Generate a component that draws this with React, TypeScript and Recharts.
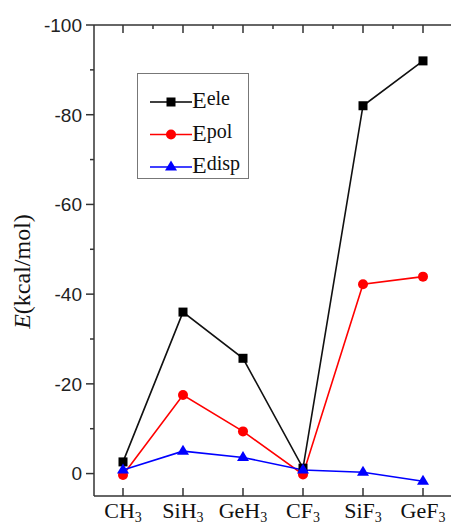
import React from 'react';
import { LineChart, Line, XAxis, YAxis, Legend } from 'recharts';

const categories = ['CH3', 'SiH3', 'GeH3', 'CF3', 'SiF3', 'GeF3'];
const eele = [-2.6, -36.0, -25.7, -1.2, -82.0, -92.0];
const epol = [0.3, -17.5, -9.4, 0.2, -42.2, -43.9];
const edisp = [-0.8, -5.0, -3.6, -0.8, -0.3, 1.7];
const yTicks = [-100, -90, -80, -70, -60, -50, -40, -30, -20, -10, 0];
const yLabelTicks = [-100, -80, -60, -40, -20, 0];
const xTicks = [0, 1, 2, 3, 4, 5];
const xTopTicks = [0, 0.5, 1, 1.5, 2, 2.5, 3, 3.5, 4, 4.5, 5];

const data = categories.map((c, i) => ({ x: i, name: c, eele: eele[i], epol: epol[i], edisp: edisp[i] }));

const AXIS = '#333';
const SERIF = '"Liberation Serif", "Times New Roman", serif';
const SANS = '"Liberation Sans", Arial, sans-serif';

const Square = (p: any) => (
  <rect key={'s' + p.index} x={p.cx - 4.5} y={p.cy - 4.5} width={9} height={9} fill="#000" />
);
const Circle = (p: any) => (
  <circle key={'c' + p.index} cx={p.cx} cy={p.cy} r={5} fill="#ff0000" />
);
const Tri = (p: any) => (
  <polygon
    key={'t' + p.index}
    points={`${p.cx},${p.cy - 6.5} ${p.cx - 6},${p.cy + 3.5} ${p.cx + 6},${p.cy + 3.5}`}
    fill="#0000ff"
  />
);

const LeftTick = (p: any) => {
  const v = p.payload.value;
  const major = yLabelTicks.includes(v);
  return (
    <g>
      <line x1={p.x - (major ? 8 : 4)} x2={p.x} y1={p.y} y2={p.y} stroke={AXIS} strokeWidth={1.5} />
      {major && (
        <text x={p.x - 12} y={p.y} dy="0.36em" textAnchor="end" style={{ fontFamily: SANS }} fontSize={19} fill="#222">
          {v}
        </text>
      )}
    </g>
  );
};

const RightTick = (p: any) => {
  const v = p.payload.value;
  const major = yLabelTicks.includes(v);
  return <line x1={p.x - (major ? 7 : 4)} x2={p.x} y1={p.y} y2={p.y} stroke={AXIS} strokeWidth={1.5} />;
};

const BottomTick = (p: any) => {
  const label = categories[p.payload.value] || '';
  const m = label.match(/^(.*?)(\d+)$/);
  const base = m ? m[1] : label;
  const sub = m ? m[2] : '';
  return (
    <g>
      <line x1={p.x} x2={p.x} y1={p.y} y2={p.y - 8} stroke={AXIS} strokeWidth={1.5} />
      <text x={p.x} y={p.y + 22} textAnchor="middle" style={{ fontFamily: SERIF }} fontSize={22} fill="#111">
        {base}
        <tspan fontSize={14} dy={4}>{sub}</tspan>
      </text>
    </g>
  );
};

const TopTick = (p: any) => {
  const v = p.payload.value;
  const major = Number.isInteger(v);
  return <line x1={p.x} x2={p.x} y1={p.y} y2={p.y + (major ? 8 : 4)} stroke={AXIS} strokeWidth={1.5} />;
};

const YLabel = (p: any) => {
  const vb = p.viewBox || { x: 0, y: 25, width: 94, height: 471 };
  const cx = vb.x + 22;
  const cy = vb.y + vb.height / 2 + 11;
  return (
    <text
      x={cx}
      y={cy}
      transform={`rotate(-90, ${cx}, ${cy})`}
      textAnchor="middle"
      dominantBaseline="central"
      style={{ fontFamily: SERIF }}
      fontSize={24}
      fill="#111"
    >
      <tspan fontStyle="italic">E</tspan>(kcal/mol)
    </text>
  );
};

const legendItems = [
  { sup: 'ele', color: '#000', shape: 'square' },
  { sup: 'pol', color: '#ff0000', shape: 'circle' },
  { sup: 'disp', color: '#0000ff', shape: 'triangle' },
];

const LegendBox = () => (
  <svg width={112} height={106} style={{ display: 'block' }}>
    <rect x={0.5} y={0.5} width={111} height={105} fill="#fff" stroke="#777" strokeWidth={1} />
    {legendItems.map((it, i) => {
      const y = 29 + i * 32.5;
      const cx = 34;
      return (
        <g key={it.sup}>
          <line x1={13} x2={55} y1={y} y2={y} stroke={it.color} strokeWidth={1.5} />
          {it.shape === 'square' && <rect x={cx - 4.5} y={y - 4.5} width={9} height={9} fill={it.color} />}
          {it.shape === 'circle' && <circle cx={cx} cy={y} r={5} fill={it.color} />}
          {it.shape === 'triangle' && (
            <polygon points={`${cx},${y - 6.5} ${cx - 6},${y + 3.5} ${cx + 6},${y + 3.5}`} fill={it.color} />
          )}
          <text x={55} y={y + 6} style={{ fontFamily: SERIF }} fontSize={24} fill="#111">
            E
            <tspan fontSize={20} dy={-3}>{it.sup}</tspan>
          </text>
        </g>
      );
    })}
  </svg>
);

export default function App() {
  return (
    <div style={{ position: 'absolute', left: 0, top: 0, width: 451, height: 526, overflow: 'hidden', background: '#fff' }}>
      <LineChart width={460} height={526} data={data} margin={{ top: 0, right: 0, bottom: 0, left: 0 }}>
        <XAxis
          xAxisId="bottom"
          dataKey="x"
          type="number"
          domain={[-0.4833, 5.4833]}
          ticks={xTicks}
          interval={0}
          height={30}
          tickSize={0}
          tickMargin={0}
          tickLine={false}
          axisLine={{ stroke: AXIS, strokeWidth: 1.5 }}
          tick={<BottomTick />}
        />
        <XAxis
          xAxisId="top"
          orientation="top"
          dataKey="x"
          type="number"
          domain={[-0.4833, 5.4833]}
          ticks={xTopTicks}
          interval={0}
          height={25}
          tickSize={0}
          tickMargin={0}
          tickLine={false}
          axisLine={{ stroke: AXIS, strokeWidth: 1.5 }}
          tick={<TopTick />}
        />
        <YAxis
          yAxisId="left"
          type="number"
          reversed
          domain={[-100, 5]}
          ticks={yTicks}
          interval={0}
          width={94}
          tickSize={0}
          tickMargin={0}
          tickLine={false}
          axisLine={{ stroke: AXIS, strokeWidth: 1.5 }}
          tick={<LeftTick />}
          label={(p: any) => <YLabel {...p} />}
        />
        <YAxis
          yAxisId="right"
          orientation="right"
          type="number"
          reversed
          domain={[-100, 5]}
          ticks={yTicks}
          interval={0}
          width={8}
          tickSize={0}
          tickMargin={0}
          tickLine={false}
          axisLine={{ stroke: AXIS, strokeWidth: 1.5 }}
          tick={<RightTick />}
        />
        <Legend
          layout="vertical"
          align="center"
          verticalAlign="middle"
          content={() => <LegendBox />}
          wrapperStyle={{ left: 137, top: 73, width: 112, height: 106 }}
        />
        <Line
          xAxisId="bottom"
          yAxisId="left"
          dataKey="eele"
          stroke="#111"
          strokeWidth={1.6}
          dot={Square}
          activeDot={false}
          isAnimationActive={false}
        />
        <Line
          xAxisId="bottom"
          yAxisId="left"
          dataKey="epol"
          stroke="#ff0000"
          strokeWidth={1.6}
          dot={Circle}
          activeDot={false}
          isAnimationActive={false}
        />
        <Line
          xAxisId="bottom"
          yAxisId="left"
          dataKey="edisp"
          stroke="#0000ff"
          strokeWidth={1.6}
          dot={Tri}
          activeDot={false}
          isAnimationActive={false}
        />
      </LineChart>
    </div>
  );
}
